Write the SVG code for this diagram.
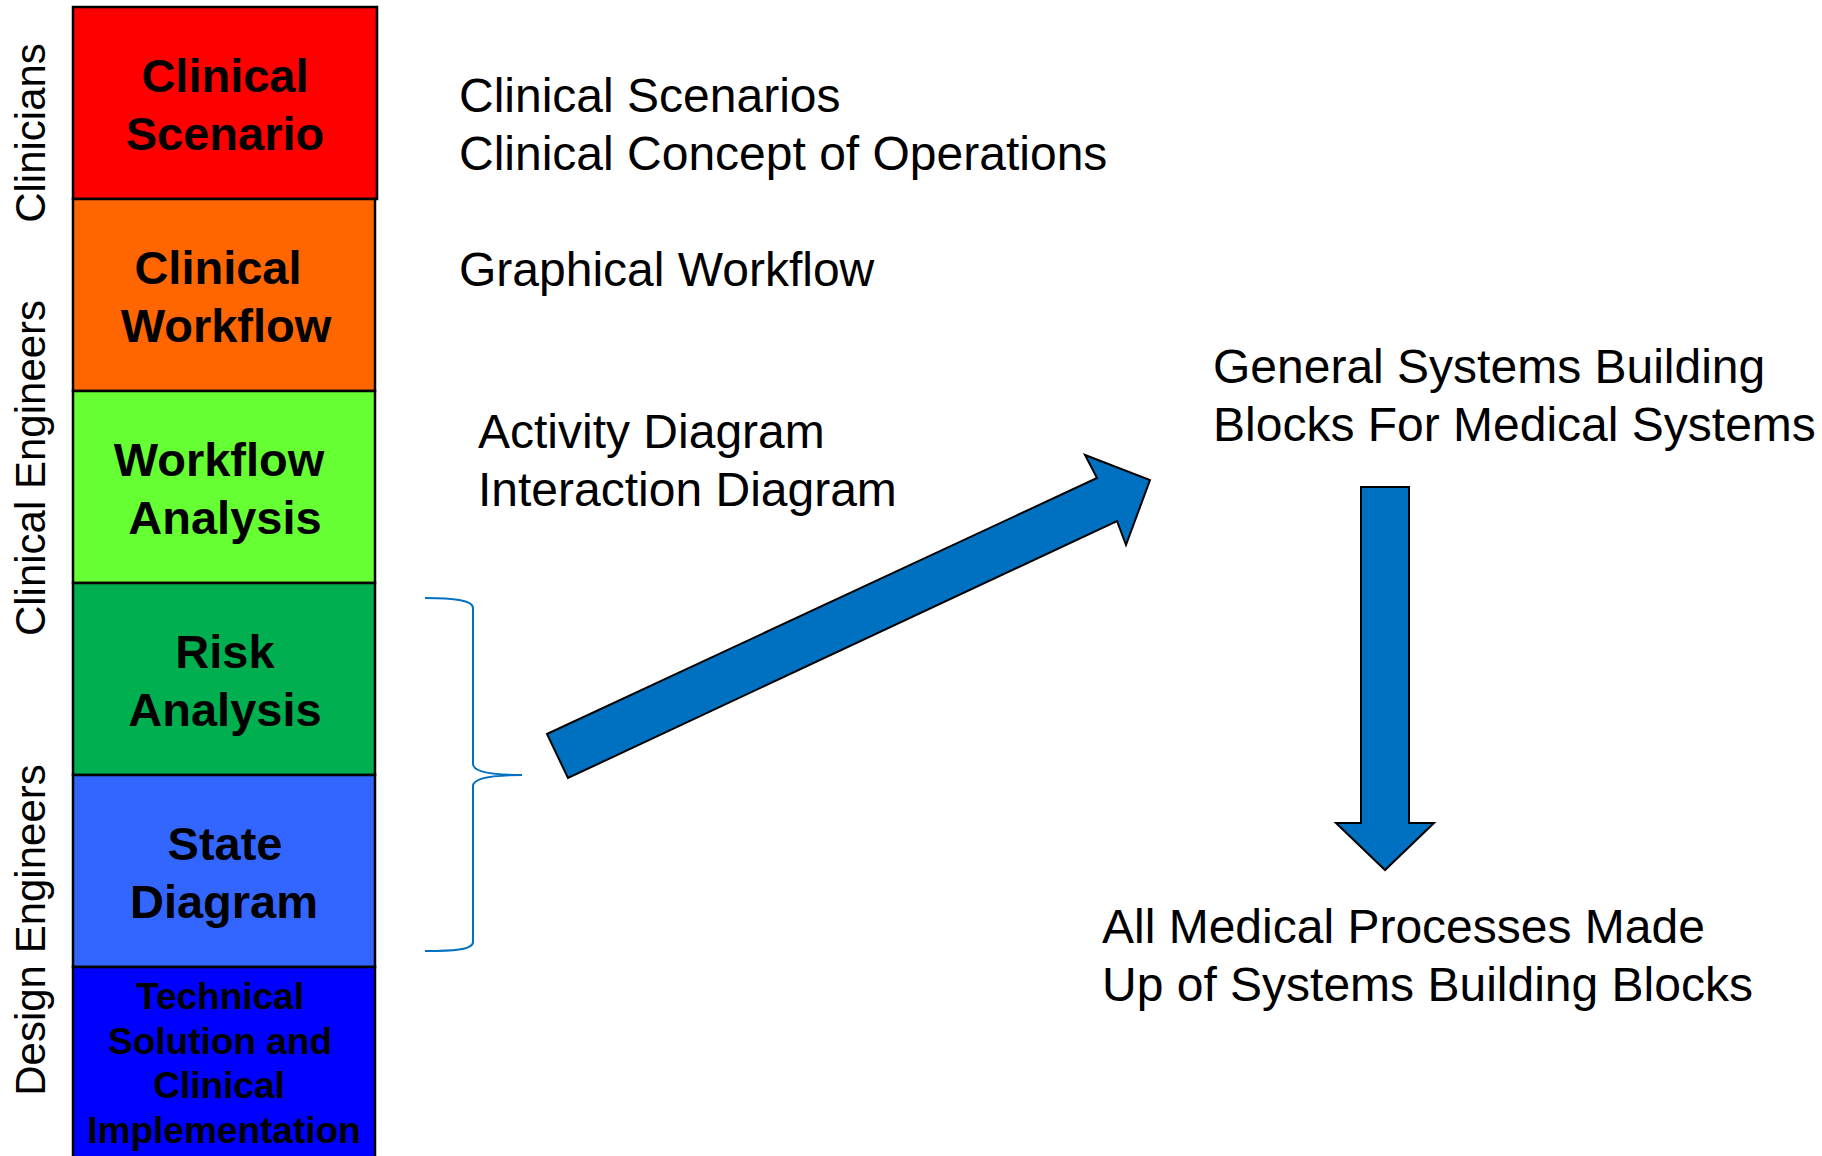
<svg xmlns="http://www.w3.org/2000/svg" width="1822" height="1156" viewBox="0 0 1822 1156">
<style>
.box{stroke:#000;stroke-width:2.5}
.bt{font-family:"Liberation Sans",Arial,sans-serif;font-weight:bold;font-size:47px;fill:#000;text-anchor:middle}
.bt2{font-family:"Liberation Sans",Arial,sans-serif;font-weight:bold;font-size:37px;fill:#000;text-anchor:middle}
.vl{font-family:"Liberation Sans",Arial,sans-serif;font-size:42px;fill:#000;text-anchor:middle}
.tx{font-family:"Liberation Sans",Arial,sans-serif;font-size:48px;fill:#000}
.arr{fill:#0070C0;stroke:#000;stroke-width:2;stroke-linejoin:miter}
.brace{fill:none;stroke:#0070C0;stroke-width:2}
</style>
<rect width="1822" height="1156" fill="#fff"/>

<g id="role-labels">
<text class="vl" transform="translate(45,133) rotate(-90)">Clinicians</text>
<text class="vl" transform="translate(45,468) rotate(-90)">Clinical Engineers</text>
<text class="vl" transform="translate(45,930) rotate(-90)">Design Engineers</text>
</g>

<g id="clinical-scenario">
<rect class="box" x="73" y="7" width="304" height="192" fill="#FF0000"/>
<text class="bt" x="225" y="92">Clinical</text>
<text class="bt" x="225" y="150">Scenario</text>
</g>
<g id="clinical-workflow">
<rect class="box" x="73" y="199" width="302" height="192" fill="#FF6600"/>
<text class="bt" x="218" y="284">Clinical</text>
<text class="bt" x="226" y="342">Workflow</text>
</g>
<g id="workflow-analysis">
<rect class="box" x="73" y="391" width="302" height="192" fill="#66FF33"/>
<text class="bt" x="219" y="476">Workflow</text>
<text class="bt" x="225" y="534">Analysis</text>
</g>
<g id="risk-analysis">
<rect class="box" x="73" y="583" width="302" height="192" fill="#00B050"/>
<text class="bt" x="225" y="668">Risk</text>
<text class="bt" x="225" y="726">Analysis</text>
</g>
<g id="state-diagram">
<rect class="box" x="73" y="775" width="302" height="192" fill="#3366FF"/>
<text class="bt" x="225" y="860">State</text>
<text class="bt" x="224" y="918">Diagram</text>
</g>
<g id="technical-solution">
<rect class="box" x="73" y="967" width="302" height="200" fill="#0000FF"/>
<text class="bt2" x="220" y="1009">Technical</text>
<text class="bt2" x="220" y="1054">Solution and</text>
<text class="bt2" x="219" y="1098">Clinical</text>
<text class="bt2" x="224" y="1143">Implementation</text>
</g>

<g id="descriptions">
<text class="tx" x="459" y="112">Clinical Scenarios</text>
<text class="tx" x="459" y="170">Clinical Concept of Operations</text>
<text class="tx" x="459" y="286">Graphical Workflow</text>
<text class="tx" x="478" y="448">Activity Diagram</text>
<text class="tx" x="478" y="506">Interaction Diagram</text>
</g>

<g id="building-blocks">
<text class="tx" x="1213" y="383">General Systems Building</text>
<text class="tx" x="1213" y="441">Blocks For Medical Systems</text>
</g>

<g id="medical-processes">
<text class="tx" x="1102" y="943">All Medical Processes Made</text>
<text class="tx" x="1102" y="1001">Up of Systems Building Blocks</text>
</g>

<g id="connectors">
<path class="brace" d="M425,598 C452,598 473,600 473,608 L473,764 C473,772 492,775 522,775 C492,775 473,778 473,786 L473,942 C473,950 452,951 425,951"/>
<polygon class="arr" points="547,734 1097,478 1085,455 1150,480 1126,545 1117,521 568,778"/>
<polygon class="arr" points="1361,487 1409,487 1409,823 1434,823 1385,870 1336,823 1361,823"/>
</g>
</svg>
